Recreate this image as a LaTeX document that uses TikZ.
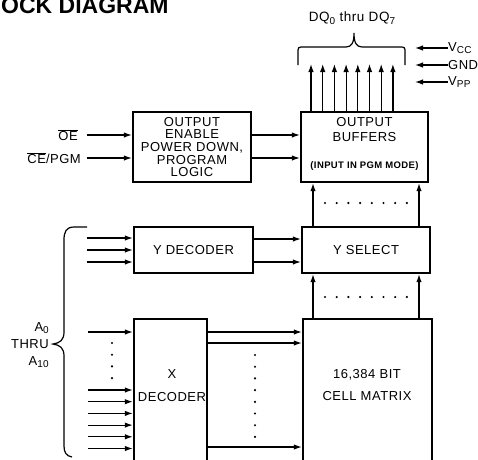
\documentclass[tikz,border=0pt]{standalone}
\usepackage{fontspec}
\setmainfont{Liberation Sans}[LetterSpace=4]
\newfontfamily\titlefont{Liberation Sans}
\usepackage{tikz}
\usetikzlibrary{arrows.meta,positioning,calc}
\newcommand\lowsub[1]{\raisebox{-2.5pt}{\fontsize{10}{10}\selectfont #1}}

\begin{document}
\begin{tikzpicture}[x=1pt, y=-1pt,
    box/.style={draw, line width=2.4pt, inner sep=0pt, align=center, font=\fontsize{13}{12.7}\selectfont},
    lbl/.style={inner sep=0pt, font=\fontsize{13}{15}\selectfont},
    arr/.style={-{Latex[length=8pt,width=5.5pt]}, line width=1.2pt},
    brace/.style={line width=1.2pt}
]
\useasboundingbox (0,0) rectangle (478,459);

\node[anchor=base west, inner sep=0pt, font=\titlefont\bfseries\fontsize{23}{23}\selectfont] (title) at (1,13) {OCK DIAGRAM};

% blocks
\node[box, minimum width=118pt, minimum height=70pt] (oelogic) at (192,147) {OUTPUT\\ENABLE\\POWER DOWN,\\PROGRAM\\LOGIC};
\node[box, minimum width=127pt, minimum height=70pt] (outbuf) at (364.5,147) {};
\node[box, minimum width=119pt, minimum height=46pt] (ydec) at (193.5,250) {Y DECODER};
\node[box, minimum width=128pt, minimum height=46pt] (ysel) at (366,250) {Y SELECT};
\node[box, minimum width=73pt, minimum height=161pt] (xdec) at (170.5,399.5) {};
\node[box, minimum width=129pt, minimum height=161pt] (cellmat) at (367.5,399.5) {};

\node[lbl, align=center] (outbuftext) at (364.5,129.5) {OUTPUT\\BUFFERS};
\node[lbl, font=\bfseries\fontsize{9.5}{9.5}\selectfont] (pgmnote) at (364.5,166) {(INPUT IN PGM MODE)};
\node[lbl, align=center, font=\fontsize{13}{23}\selectfont] (xdectext) at (172,385.5) {X\\DECODER};
\node[lbl, align=center, font=\fontsize{13}{22}\selectfont] (celltext) at (367,385) {16,384 BIT\\CELL MATRIX};

% control inputs
\node[lbl, anchor=east] (oe) at (78,135) {$\overline{\hbox{OE}}$};
\node[lbl, anchor=east] (cepgm) at (81,158) {$\overline{\hbox{CE}}$/PGM};
\draw[arr] ([xshift=9pt]oe.east) -- (oe -| oelogic.west);
\draw[arr] ([xshift=6pt]cepgm.east) -- (cepgm -| oelogic.west);
\draw[arr] ([yshift=12pt]oelogic.east) -- ([yshift=12pt]oelogic.east -| outbuf.west);
\draw[arr] ([yshift=-11pt]oelogic.east) -- ([yshift=-11pt]oelogic.east -| outbuf.west);

% data outputs
\foreach \i in {0,...,7} {
  \coordinate (dq\i) at ({311+11.7*\i},64);
  \draw[arr] (dq\i |- outbuf.north) -- (dq\i);
}
\draw[brace] (298,65) -- (298,53) .. controls (298,47) .. (304,47) -- (346,47)
  .. controls (352,47) and (354,42) .. (354,33) .. controls (354,42) and (356,47) .. (362,47)
  -- (399,47) .. controls (405,47) .. (405,53) -- (405,65);
\node[lbl, font=\fontsize{13.5}{14}\selectfont] (dqlabel) at (352,18) {DQ\lowsub{0} thru DQ\lowsub{7}};

% supply pins
\node[lbl, anchor=west] (vcc) at (448,48) {V\lowsub{CC}};
\node[lbl, anchor=west] (gnd) at (448,65) {GND};
\node[lbl, anchor=west] (vpp) at (448,82) {V\lowsub{PP}};
\coordinate (pwrtip) at (415,0);
\foreach \n in {vcc,gnd,vpp}
  \draw[arr] (\n.west) -- (\n.west -| pwrtip);

% column paths
\foreach \x in {313,419} {
  \coordinate (col) at (\x,0);
  \draw[arr] (col |- ysel.north) -- (col |- outbuf.south);
  \draw[arr] (col |- cellmat.north) -- (col |- ysel.south);
}
\draw[arr] ([yshift=11pt]ydec.east) -- ([yshift=11pt]ydec.east -| ysel.west);
\draw[arr] ([yshift=-12pt]ydec.east) -- ([yshift=-12pt]ydec.east -| ysel.west);
\foreach \k in {0,...,7} {
  \fill ({325+11.7*\k},203) circle (1.2pt);
  \fill ({325+11.7*\k},297) circle (1.2pt);
}

% address inputs
\foreach \y [count=\i] in {238,250,262} {
  \coordinate (yin\i) at (87,\y);
  \draw[arr] (yin\i) -- (yin\i -| ydec.west);
}
\foreach \y [count=\i] in {332,390,401.7,413.4,425.1,436.8,448.5} {
  \coordinate (xin\i) at (88,\y);
  \draw[arr] (xin\i) -- (xin\i -| xdec.west);
}
\foreach \k in {0,...,3}
  \fill (112,{343+11.7*\k}) circle (1.2pt);
\foreach \y [count=\i] in {332,343,447} {
  \coordinate (row\i) at (0,\y);
  \draw[arr] (xdec.east |- row\i) -- (cellmat.west |- row\i);
}
\foreach \k in {0,...,7}
  \fill (255,{355+11.7*\k}) circle (1.2pt);

\draw[brace] (87,227) -- (74,227) .. controls (66,227) and (64,232) .. (64,240) -- (64,332)
  .. controls (64,340) and (60,343) .. (53,344) .. controls (60,345) and (64,348) .. (64,356)
  -- (64,446) .. controls (64,452) and (66,456) .. (72,457);
\node[lbl, anchor=east, align=right, font=\fontsize{13}{17}\selectfont] (addr) at (49,345) {A\lowsub{0}\\THRU\\A\lowsub{10}};
\end{tikzpicture}
\end{document}
